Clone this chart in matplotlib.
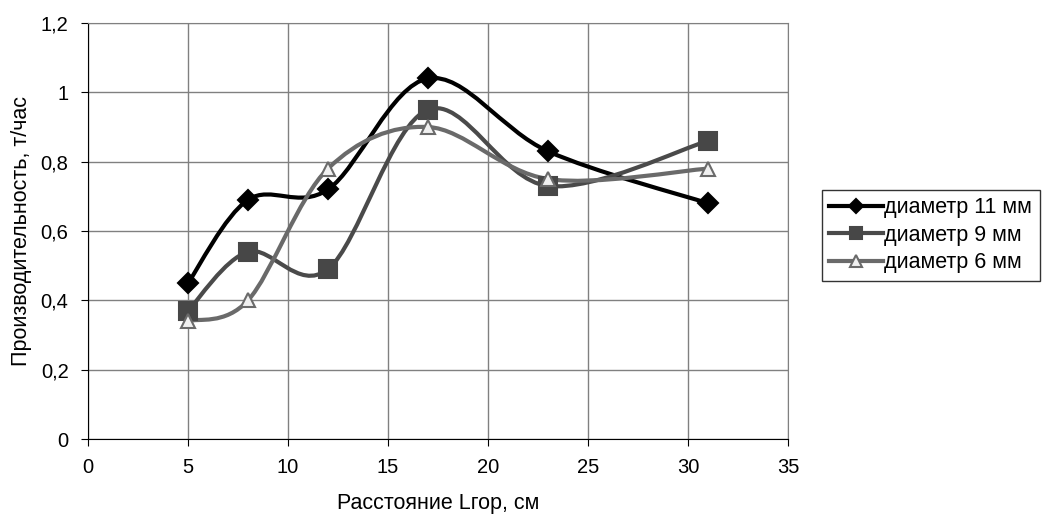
import numpy as np
import matplotlib
matplotlib.use('Agg')
import matplotlib.pyplot as plt
from matplotlib.path import Path
from matplotlib.patches import PathPatch
from matplotlib.lines import Line2D
from matplotlib.ticker import FuncFormatter

plt.rcParams['font.family'] = ['Liberation Sans', 'DejaVu Sans']

# data
dist = [5, 8, 12, 17, 23, 31]
d11 = [0.45, 0.69, 0.72, 1.04, 0.83, 0.68]
d9 = [0.37, 0.54, 0.49, 0.95, 0.73, 0.86]
d6 = [0.34, 0.40, 0.78, 0.90, 0.75, 0.78]
labels = ['диаметр 11 мм', 'диаметр 9 мм', 'диаметр 6 мм']


def smooth_path(x, y):
    # Excel-like smoothed line: cubic bezier segments, catmull-rom control points
    p = np.column_stack([x, y]).astype(float)
    pts = [p[0]]
    codes = [Path.MOVETO]
    n = len(p)
    for i in range(n - 1):
        p0 = p[i - 1] if i > 0 else p[i]
        p3 = p[i + 2] if i + 2 < n else p[i + 1]
        c1 = p[i] + (p[i + 1] - p0) / 6
        c2 = p[i + 1] - (p3 - p[i]) / 6
        pts += [c1, c2, p[i + 1]]
        codes += [Path.CURVE4] * 3
    return Path(pts, codes)


fig = plt.figure(figsize=(10.43, 5.16), dpi=100)
ax = fig.add_axes([0.0844, 0.1492, 0.6711, 0.8062])

styles = [
    dict(color='#000000', marker='D', ms=10.5, lms=7.5, mfc='#000000', mec='#000000'),
    dict(color='#4a4a4a', marker='s', ms=13, lms=9, mfc='#474747', mec='#474747'),
    dict(color='#6a6a6a', marker='^', ms=10, lms=8, mfc='#f0f0f0', mec='#6a6a6a'),
]

handles = []
for yv, st, lab in zip([d11, d9, d6], styles, labels):
    ax.add_patch(PathPatch(smooth_path(dist, yv), fill=False, edgecolor=st['color'],
                           lw=3, capstyle='round', joinstyle='round', zorder=3))
    ax.plot(dist, yv, ls='none', marker=st['marker'], ms=st['ms'], mfc=st['mfc'],
            mec=st['mec'], mew=1.5, zorder=4)
    handles.append(Line2D([], [], color=st['color'], lw=3, marker=st['marker'],
                          ms=st['lms'], mfc=st['mfc'], mec=st['mec'], mew=1.5))

ax.set_xlim(0, 35)
ax.set_ylim(0, 1.2)
ax.set_xticks(np.arange(0, 36, 5))
ax.set_yticks(np.arange(0, 1.21, 0.2))
ax.yaxis.set_major_formatter(FuncFormatter(lambda v, p: ('%g' % round(v, 1)).replace('.', ',')))
ax.grid(True, color='#808080', lw=1)
ax.set_axisbelow(True)
for s in ax.spines.values():
    s.set_color('#808080')
ax.spines['left'].set_color('#000000')
ax.spines['bottom'].set_color('#000000')
ax.tick_params(direction='out', length=5, labelsize=14.5, pad=9)

ax.set_xlabel('Расстояние Lгор, см', fontsize=15.5, labelpad=11)
ax.set_ylabel('Производительность, т/час', fontsize=15.5, labelpad=6)

leg = fig.legend(handles, labels, loc='upper left', bbox_to_anchor=(0.788, 0.632),
                 frameon=True, fancybox=False, fontsize=15.5, handlelength=2.5,
                 handletextpad=0.05, borderpad=0.35, labelspacing=0.3, borderaxespad=0)
leg.get_frame().set_edgecolor('#000000')
leg.get_frame().set_linewidth(1)

fig.savefig('out.png', dpi=100)
